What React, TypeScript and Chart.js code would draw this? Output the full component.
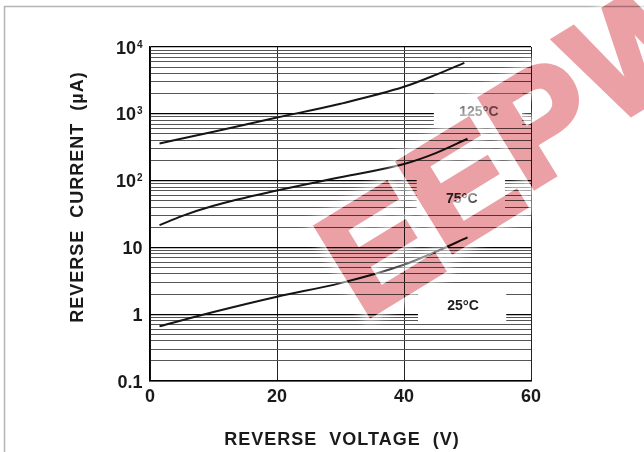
import React, { useEffect, useRef } from "react";
import { Chart, registerables } from "chart.js";

Chart.register(...registerables);

// ---- data ----
const voltage125 = [1.5, 10, 20, 30, 40, 45, 49.5];
const current125 = [360, 540, 879, 1415, 2535, 3830, 5800];
const voltage75 = [1.5, 5, 10, 20, 30, 40, 45, 50];
const current75 = [21.5, 29.4, 42, 71, 112, 177, 258, 423];
const voltage25 = [1.5, 10, 20, 30, 40, 45, 50];
const current25 = [0.66, 1.08, 1.83, 2.92, 5.5, 8.6, 14.1];

const xTickStep = 20;
const xMin = 0;
const xMax = 60;
const yDecades = [0.1, 1, 10, 100, 1000, 10000];
const yLabelBase = ["0.1", "1", "10", "10", "10", "10"];
const yLabelExp = ["", "", "", "2", "3", "4"];
const yMantissas = [1, 2, 3, 4, 5, 6, 7, 8, 9];

const curveNames = ["125", "75", "25"];
const labelV = [51.8, 49.1, 49.3];
const labelI = [1100, 55, 1.37];
const labelColors = ["#6e6e6e", "#2a2a2a", "#1e1e1e"];
const boxV0 = [44.7, 42.0, 42.2];
const boxV1 = [58.6, 55.9, 56.1];
const boxIHi = [2000, 105, 2.57];
const boxILo = [620, 32, 0.74];

const xTitle = "REVERSE  VOLTAGE  (V)";
const yTitle = "REVERSE  CURRENT  (\u00B5A)";
const watermarkChars = ["E", "E", "P", "W"];
const FONT = 'Arial, "Liberation Sans", sans-serif';

function toPoints(xs: number[], ys: number[]) {
  return xs.map((x, i) => ({ x, y: ys[i] }));
}

const yGridValues: number[] = [];
yDecades.slice(0, -1).forEach((d) => {
  yMantissas.forEach((m) => yGridValues.push(parseFloat((m * d).toPrecision(4))));
});
yGridValues.push(yDecades[yDecades.length - 1]);

const isDecade = (v: number) => yDecades.some((d) => Math.abs(d - v) / d < 1e-6);

function paintLetters(c: CanvasRenderingContext2D, color: string, strokeW: number) {
  c.fillStyle = color;
  c.strokeStyle = color;
  c.lineWidth = strokeW;
  c.lineJoin = "miter";
  c.font = "bold 150px " + FONT;
  c.textAlign = "left";
  c.textBaseline = "alphabetic";
  const startX = 372;
  const startY = 314;
  const stepX = 82;
  const stepY = -64;
  const ang = (-31.5 * Math.PI) / 180;
  watermarkChars.forEach((ch, i) => {
    c.save();
    c.translate(startX + stepX * i, startY + stepY * i);
    c.rotate(ang);
    c.fillText(ch, -11, 0);
    if (strokeW > 0) c.strokeText(ch, -11, 0);
    c.restore();
  });
}

function drawWatermark(ctx: CanvasRenderingContext2D, w: number, h: number) {
  const dpr = window.devicePixelRatio || 1;
  // soft white halo around the letters
  const halo = document.createElement("canvas");
  halo.width = w * dpr;
  halo.height = h * dpr;
  const hc = halo.getContext("2d")!;
  hc.scale(dpr, dpr);
  (hc as any).filter = "blur(4px)";
  paintLetters(hc, "rgba(255,255,255,0.6)", 18);
  (hc as any).filter = "none";
  hc.globalCompositeOperation = "destination-out";
  paintLetters(hc, "#000", 6);
  ctx.save();
  ctx.drawImage(halo, 0, 0, w, h);
  // pink letters
  const pink = document.createElement("canvas");
  pink.width = w * dpr;
  pink.height = h * dpr;
  const pc = pink.getContext("2d")!;
  pc.scale(dpr, dpr);
  paintLetters(pc, "rgb(234,160,165)", 6);
  ctx.globalCompositeOperation = "multiply";
  ctx.drawImage(pink, 0, 0, w, h);
  ctx.restore();
}

const overlayPlugin = {
  id: "overlay",
  beforeDatasetsDraw(chart: any) {
    const ctx = chart.ctx;
    const xs = chart.scales.x;
    const ys = chart.scales.y;
    ctx.save();
    ctx.fillStyle = "#ffffff";
    for (let i = 0; i < curveNames.length; i++) {
      const x0 = xs.getPixelForValue(boxV0[i]);
      const x1 = Math.min(xs.getPixelForValue(boxV1[i]), chart.chartArea.right - 1);
      const y0 = ys.getPixelForValue(boxIHi[i]);
      const y1 = ys.getPixelForValue(boxILo[i]);
      ctx.fillRect(x0, y0, x1 - x0, y1 - y0);
    }
    ctx.restore();
  },
  afterDatasetsDraw(chart: any) {
    const ctx = chart.ctx;
    const xs = chart.scales.x;
    const ys = chart.scales.y;
    ctx.save();
    for (let i = 0; i < curveNames.length; i++) {
      const cx = xs.getPixelForValue(labelV[i]);
      const cy = ys.getPixelForValue(labelI[i]);
      const main = "bold 14px " + FONT;
      const deg = "bold 15px " + FONT;
      ctx.font = main;
      const w1 = ctx.measureText(curveNames[i]).width;
      const w3 = ctx.measureText("C").width;
      ctx.font = deg;
      const w2 = ctx.measureText("\u00B0").width;
      const total = w1 + w2 + w3;
      let x = cx - total / 2;
      const base = cy + 5;
      ctx.fillStyle = labelColors[i];
      ctx.textAlign = "left";
      ctx.textBaseline = "alphabetic";
      ctx.font = main;
      ctx.fillText(curveNames[i], x, base);
      x += w1;
      ctx.font = deg;
      ctx.fillText("\u00B0", x, base + 1);
      x += w2;
      ctx.font = main;
      ctx.fillText("C", x, base);
    }
    ctx.restore();
  },
  afterDraw(chart: any) {
    const ctx = chart.ctx;
    const ys = chart.scales.y;
    ctx.save();
    // y tick labels
    ctx.fillStyle = "#1a1a1a";
    ctx.textBaseline = "alphabetic";
    for (let i = 0; i < yDecades.length; i++) {
      const py = ys.getPixelForValue(yDecades[i]);
      ctx.font = "bold 18px " + FONT;
      ctx.textAlign = "right";
      if (yLabelExp[i]) {
        ctx.fillText(yLabelBase[i], 136, py + 6.5);
        ctx.font = "bold 10px " + FONT;
        ctx.textAlign = "left";
        ctx.fillText(yLabelExp[i], 137, py + 0.5);
      } else {
        ctx.fillText(yLabelBase[i], 142.5, py + 6.5);
      }
    }
    // axis titles
    ctx.font = "bold 18px " + FONT;
    (ctx as any).letterSpacing = "1px";
    ctx.textAlign = "center";
    ctx.textBaseline = "middle";
    ctx.fillText(xTitle, 342, 440);
    ctx.save();
    ctx.translate(78, 197);
    ctx.rotate(-Math.PI / 2);
    ctx.fillText(yTitle, 0, 0);
    ctx.restore();
    (ctx as any).letterSpacing = "0px";
    // frame
    ctx.strokeStyle = "#b4b4b4";
    ctx.lineWidth = 1.5;
    ctx.beginPath();
    ctx.moveTo(4.5, 452);
    ctx.lineTo(4.5, 6.5);
    ctx.lineTo(644, 6.5);
    ctx.stroke();
    ctx.restore();
    // watermark
    drawWatermark(ctx, chart.width, chart.height);
  },
};

export default function App() {
  const ref = useRef<HTMLCanvasElement | null>(null);
  useEffect(() => {
    if (!ref.current) return;
    const lineStyle = {
      borderColor: "#151515",
      borderWidth: 2,
      pointRadius: 0,
      fill: false,
      cubicInterpolationMode: "monotone" as const,
    };
    const chart = new Chart(ref.current, {
      type: "line",
      data: {
        datasets: [
          { label: "125", data: toPoints(voltage125, current125), ...lineStyle },
          { label: "75", data: toPoints(voltage75, current75), ...lineStyle },
          { label: "25", data: toPoints(voltage25, current25), ...lineStyle },
        ],
      },
      options: {
        animation: false,
        responsive: true,
        maintainAspectRatio: false,
        layout: { padding: { top: 47, right: 113, left: 0, bottom: 0 } },
        plugins: { legend: { display: false }, tooltip: { enabled: false } },
        scales: {
          x: {
            type: "linear",
            min: xMin,
            max: xMax,
            ticks: {
              stepSize: xTickStep,
              color: "#1a1a1a",
              font: { family: FONT, size: 18, weight: "bold" },
              padding: 5,
              maxRotation: 0,
            },
            grid: { color: "#222", lineWidth: 1, drawTicks: false },
            border: { display: true, color: "#000", width: 1.5 },
            afterFit: (s: any) => {
              s.height = 71;
            },
          },
          y: {
            type: "logarithmic",
            min: yDecades[0],
            max: yDecades[yDecades.length - 1],
            ticks: { display: false },
            afterBuildTicks: (s: any) => {
              s.ticks = yGridValues.map((v) => ({ value: v, major: isDecade(v) }));
            },
            grid: {
              color: (c: any) => (c.tick && isDecade(c.tick.value) ? "#000" : "#555"),
              lineWidth: (c: any) => (c.tick && isDecade(c.tick.value) ? 1.2 : 1),
              drawTicks: false,
            },
            border: { display: true, color: "#000", width: 1.5 },
            afterFit: (s: any) => {
              s.width = 150;
            },
          },
        },
      },
      plugins: [overlayPlugin],
    });
    return () => chart.destroy();
  }, []);
  return (
    <div style={{ position: "fixed", left: 0, top: 0, width: 644, height: 452, background: "#fff" }}>
      <canvas ref={ref} />
    </div>
  );
}
